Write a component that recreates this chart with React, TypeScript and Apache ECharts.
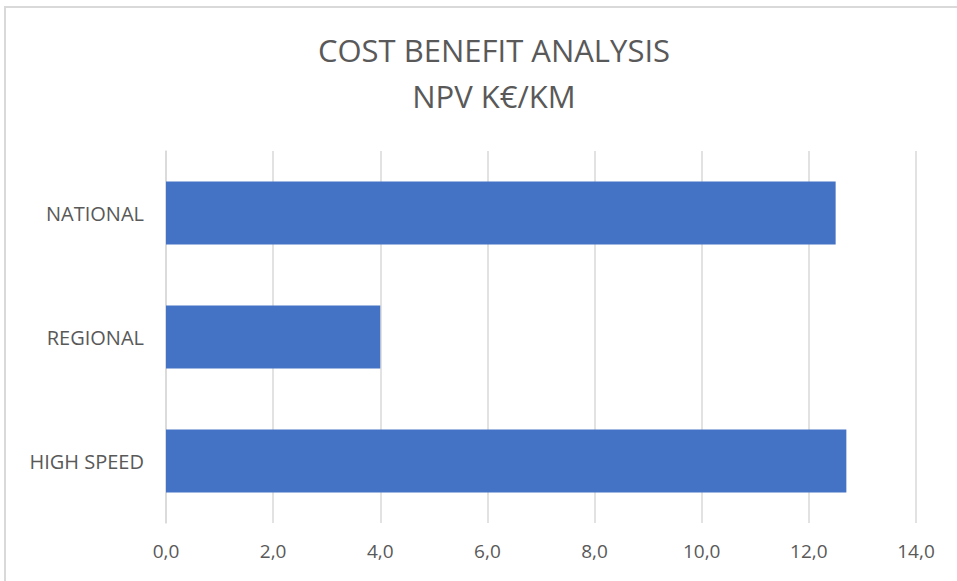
import React, { useEffect, useRef } from "react";
import * as echarts from "echarts";

const categories = ["HIGH SPEED", "REGIONAL", "NATIONAL"];
const values = [12.7, 4.0, 12.5];
const titleLines = ["COST BENEFIT ANALYSIS", "NPV K€/KM"];
const xMin = 0;
const xMax = 14;
const xInterval = 2;

export default function App() {
  const ref = useRef<HTMLDivElement>(null);
  useEffect(() => {
    if (!ref.current) return;
    const chart = echarts.init(ref.current, null, { renderer: "svg" });
    chart.setOption({
      animation: false,
      backgroundColor: "#ffffff",
      textStyle: { fontFamily: "Open Sans" },
      title: {
        text: titleLines.join("\n"),
        left: 489,
        top: 22,
        textAlign: "center",
        textStyle: {
          fontFamily: "Open Sans",
          fontSize: 31,
          fontWeight: "normal",
          color: "#595959",
          lineHeight: 46,
        },
      },
      graphic: [
        {
          type: "rect",
          shape: { x: 5, y: 7, width: 1100, height: 1100 },
          style: { fill: "none", stroke: "#d9d9d9", lineWidth: 2 },
          silent: true,
        },
      ],
      grid: { left: 166, right: 41, top: 151, bottom: 58, containLabel: false },
      xAxis: {
        type: "value",
        min: xMin,
        max: xMax,
        interval: xInterval,
        axisLine: { show: false },
        axisTick: { show: false },
        splitLine: { show: true, lineStyle: { color: "#d9d9d9", width: 1.5 } },
        axisLabel: {
          margin: 18,
          fontSize: 19,
          color: "#595959",
          fontFamily: "Open Sans",
          formatter: (v: number) => v.toFixed(1).replace(".", ","),
        },
      },
      yAxis: {
        type: "category",
        data: categories,
        axisLine: { show: true, lineStyle: { color: "#d9d9d9", width: 1.5 } },
        axisTick: { show: false },
        axisLabel: {
          margin: 22,
          fontSize: 20,
          color: "#595959",
          fontFamily: "Open Sans",
        },
      },
      series: [
        {
          type: "bar",
          data: values,
          barWidth: 63,
          itemStyle: { color: "#4472c4" },
        },
      ],
    });
    return () => chart.dispose();
  }, []);
  return (
    <div style={{ position: "fixed", left: 0, top: 0, width: 957, height: 581 }}>
      <div ref={ref} style={{ width: 957, height: 581 }} />
    </div>
  );
}
